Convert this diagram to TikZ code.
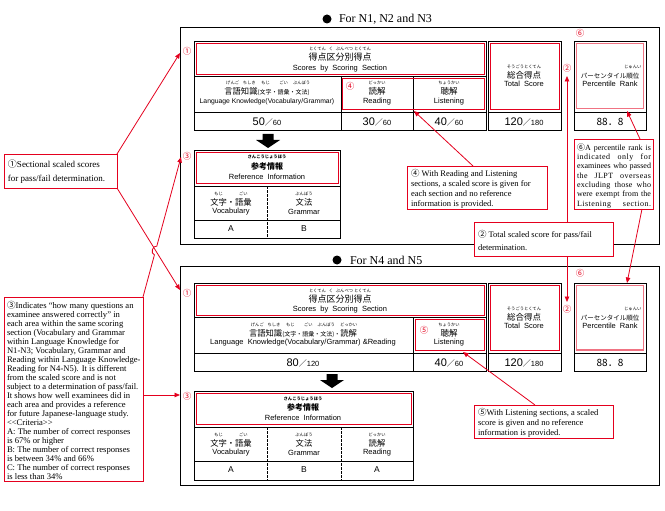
\documentclass[tikz,border=0pt]{standalone}
\usepackage{fontspec}
\setmainfont{Liberation Serif}
\setsansfont{Liberation Sans}
\newfontfamily\jp{Noto Sans CJK JP}
\usetikzlibrary{arrows.meta}
\definecolor{myred}{RGB}{228,0,30}
\newcommand{\fs}[2]{\fontsize{#1}{#2}\selectfont}
\newcommand{\rb}[2]{\ooalign{#1\cr\hidewidth\raisebox{10pt}{\fs{4.3}{4.3}#2}\hidewidth\cr}}
\newcommand{\scoreval}[2]{{\sffamily\fs{11}{11}#1}{\jp\fs{8}{8}／}{\sffamily\fs{7.5}{7.5}#2}}
\newcommand{\jline}[2]{\makebox[74pt][s]{\addfontfeature{LetterSpace=#1}#2}}
\begin{document}
\begin{tikzpicture}[x=1pt,y=-1pt,
  every node/.style={inner sep=0pt, outer sep=0pt},
  blk/.style={draw=black, line width=0.9pt},
  rbox/.style={draw=myred, line width=0.9pt},
  pbox/.style={draw=myred!55, line width=1.4pt},
  note/.style={draw=myred, line width=0.9pt, fill=white, anchor=north west},
  ntext/.style={anchor=north west, align=left},
  cnum/.style={text=myred, font=\jp\fs{8.5}{8.5}},
  jpl/.style={anchor=base, font=\jp\fs{8.5}{8.5}},
  enl/.style={font=\sffamily\fs{7.5}{7.5}},
  val/.style={font=\sffamily\fs{8.5}{8.5}},
  rarr/.style={draw=myred, line width=0.8pt, -{Triangle[length=5.5pt,width=4.5pt]}},
  dsh/.style={line width=0.8pt, dash pattern=on 2.5pt off 1.5pt},
  bul/.style={circle, fill=black, minimum size=9pt}
]
\useasboundingbox (0,0) rectangle (665,511);
\fill[white] (0,0) rectangle (665,511);

% ---------- panels ----------
\draw[blk] (180,27) rectangle (659,244);
\draw[blk] (180,266) rectangle (659,485);

% titles
\node[bul] (bul1) at (327,19) {};
\node[anchor=west, font=\fs{12}{12}] (tt1) at (339,19.5) {For N1, N2 and N3};
\node[bul] (bul2) at (337,260) {};
\node[anchor=west, font=\fs{12}{12}] (tt2) at (350,260.5) {For N4 and N5};

% ---------- top panel tables ----------
\draw[blk] (194,41) rectangle (486,130);
\draw[blk] (194,76) -- (486,76);
\draw[blk] (194,112) -- (486,112);
\draw[blk] (341,76) -- (341,130);
\draw[blk] (413,76) -- (413,130);
\draw[rbox] (196,43) rectangle (484,74);
\draw[rbox] (342.5,78) rectangle (484,109);

\draw[blk] (488,41) rectangle (561,130);
\draw[blk] (488,112) -- (561,112);
\draw[rbox] (490,43) rectangle (559,109);

\draw[blk] (574,41) rectangle (646,130);
\draw[blk] (574,112) -- (646,112);
\draw[pbox] (576.5,43.5) rectangle (643.5,108.5);

\draw[blk] (194,150) rectangle (340,238);
\draw[blk] (194,186) -- (340,186);
\draw[blk] (194,220) -- (340,220);
\draw[dsh] (267,186) -- (267,238);
\draw[rbox] (196,152) rectangle (338,183);

\fill (262.5,134) -- (273.5,134) -- (273.5,140) -- (280,140) -- (268,148) -- (256,140) -- (262.5,140) -- cycle;

% top texts
\node[jpl, font=\jp\fs{9}{9}] (h1) at (340,60.5) {\rb{得点}{とくてん}\rb{区}{く}\rb{分別}{ぶんべつ}\rb{得点}{とくてん}};
\node[enl] (h1e) at (340,68.5) {Scores~ by~ Scoring~ Section};
\node[jpl, font=\jp\fs{8.3}{8.3}] (lk1) at (267,95) {\rb{言語}{げんご}\rb{知識}{ちしき}{\fs{6}{6}(\rb{文字}{もじ}・\rb{語彙}{ごい}・\rb{文法}{ぶんぽう})}};
\node[enl, font=\sffamily\fs{6.8}{6.8}] (lk1e) at (267,102) {Language Knowledge(Vocabulary/Grammar)};
\node[jpl] (rd1) at (377,95) {\rb{読解}{どっかい}};
\node[enl] (rd1e) at (377,102) {Reading};
\node[jpl] (ls1) at (449,95) {\rb{聴解}{ちょうかい}};
\node[enl] (ls1e) at (449,102) {Listening};
\node (v11) at (267,122) {\scoreval{50}{60}};
\node (v12) at (377,122) {\scoreval{30}{60}};
\node (v13) at (449,122) {\scoreval{40}{60}};
\node[jpl] (ts1) at (524,78.5) {\rb{総合得点}{そうごうとくてん}};
\node[enl] (ts1e) at (524,84) {Total~ Score};
\node (v14) at (524,122) {\scoreval{120}{180}};
\node[jpl, font=\jp\fs{6.5}{6.5}] (pr1) at (610,78.5) {パーセンタイル\rb{順位}{じゅんい}};
\node[enl] (pr1e) at (610,84) {Percentile~ Rank};
\node[font=\jp\fs{10}{10}] (v15) at (610,122) {88．8};
\node[jpl, font=\jp\bfseries\fs{8}{8}] (ri1) at (267,169) {\rb{参考情報}{さんこうじょうほう}};
\node[enl] (ri1e) at (267,176.5) {Reference~ Information};
\node[jpl, font=\jp\fs{8.3}{8.3}] (vo1) at (231,205) {\rb{文字}{もじ}・\rb{語彙}{ごい}};
\node[enl] (vo1e) at (231,211.5) {Vocabulary};
\node[jpl, font=\jp\fs{8.3}{8.3}] (gr1) at (304,205) {\rb{文法}{ぶんぽう}};
\node[enl] (gr1e) at (304,211.5) {Grammar};
\node[val] (a1) at (231,229) {A};
\node[val] (b1) at (304,229) {B};

% ---------- bottom panel tables ----------
\draw[blk] (194,283) rectangle (486,371);
\draw[blk] (194,317) -- (486,317);
\draw[blk] (194,353) -- (486,353);
\draw[blk] (413,317) -- (413,371);
\draw[rbox] (196,285) rectangle (484,315);
\draw[rbox] (415,319) rectangle (484,350);

\draw[blk] (488,283) rectangle (561,371);
\draw[blk] (488,353) -- (561,353);
\draw[rbox] (490,285) rectangle (559,350);

\draw[blk] (574,283) rectangle (646,371);
\draw[blk] (574,353) -- (646,353);
\draw[pbox] (576.5,285.5) rectangle (643.5,350);

\draw[blk] (194,391) rectangle (413,480);
\draw[blk] (194,427) -- (413,427);
\draw[blk] (194,461) -- (413,461);
\draw[dsh] (267,427) -- (267,480);
\draw[dsh] (341,427) -- (341,480);
\draw[rbox] (196,393) rectangle (411,424);

\fill (326.5,374) -- (337.5,374) -- (337.5,380) -- (344,380) -- (332,388) -- (320,380) -- (326.5,380) -- cycle;

% bottom texts
\node[jpl, font=\jp\fs{9}{9}] (h2) at (340,302.5) {\rb{得点}{とくてん}\rb{区}{く}\rb{分別}{ぶんべつ}\rb{得点}{とくてん}};
\node[enl] (h2e) at (340,309.5) {Scores~ by~ Scoring~ Section};
\node[jpl, font=\jp\fs{8.3}{8.3}] (lk2) at (303,336) {\rb{言語}{げんご}\rb{知識}{ちしき}{\fs{6}{6}(\rb{文字}{もじ}・\rb{語彙}{ごい}・\rb{文法}{ぶんぽう})・}\rb{読解}{どっかい}};
\node[enl] (lk2e) at (303,343) {Language~ Knowledge(Vocabulary/Grammar) \&Reading};
\node[jpl] (ls2) at (449,336) {\rb{聴解}{ちょうかい}};
\node[enl] (ls2e) at (449,343) {Listening};
\node (v21) at (303,363) {\scoreval{80}{120}};
\node (v22) at (449,363) {\scoreval{40}{60}};
\node[jpl] (ts2) at (524,320) {\rb{総合得点}{そうごうとくてん}};
\node[enl] (ts2e) at (524,325.5) {Total~ Score};
\node (v23) at (524,363) {\scoreval{120}{180}};
\node[jpl, font=\jp\fs{6.5}{6.5}] (pr2) at (610,320) {パーセンタイル\rb{順位}{じゅんい}};
\node[enl] (pr2e) at (610,325.5) {Percentile~ Rank};
\node[font=\jp\fs{10}{10}] (v24) at (610,363) {88．8};
\node[jpl, font=\jp\bfseries\fs{8}{8}] (ri2) at (303,410) {\rb{参考情報}{さんこうじょうほう}};
\node[enl] (ri2e) at (303,417.5) {Reference~ Information};
\node[jpl, font=\jp\fs{8.3}{8.3}] (vo2) at (231,446) {\rb{文字}{もじ}・\rb{語彙}{ごい}};
\node[enl] (vo2e) at (231,452.5) {Vocabulary};
\node[jpl, font=\jp\fs{8.3}{8.3}] (gr2) at (304,446) {\rb{文法}{ぶんぽう}};
\node[enl] (gr2e) at (304,452.5) {Grammar};
\node[jpl, font=\jp\fs{8.3}{8.3}] (rd2) at (377,446) {\rb{読解}{どっかい}};
\node[enl] (rd2e) at (377,452.5) {Reading};
\node[val] (a2) at (231,470) {A};
\node[val] (b2) at (304,470) {B};
\node[val] (a3) at (377,470) {A};

% ---------- circled numbers ----------
\node[cnum] (c1a) at (187,51) {①};
\node[cnum] (c2a) at (567,68) {②};
\node[cnum] (c3a) at (187,156) {③};
\node[cnum] (c4a) at (350,86) {④};
\node[cnum] (c6a) at (580,33) {⑥};
\node[cnum] (c1b) at (187,293) {①};
\node[cnum] (c2b) at (567,309) {②};
\node[cnum] (c3b) at (187,396) {③};
\node[cnum] (c5b) at (424,330) {⑤};
\node[cnum] (c6b) at (580,273) {⑥};

% ---------- note boxes ----------
\node[note, minimum width=113pt, minimum height=34pt] (n1) at (4,154) {};
\node[ntext, font=\fs{9}{14}] (n1t) at (8,160) {{\jp ①}Sectional scaled scores\\for pass/fail determination.};

\node[note, minimum width=139pt, minimum height=184pt] (n3) at (4,297) {};
\node[ntext, font=\fs{8.6}{9}] (n3t) at (7,301) {{\jp ③}Indicates “how many questions an\\
examinee answered correctly” in\\
each area within the same scoring\\
section (Vocabulary and Grammar\\
within Language Knowledge for\\
N1-N3; Vocabulary, Grammar and\\
Reading within Language Knowledge-\\
Reading for N4-N5). It is different\\
from the scaled score and is not\\
subject to a determination of pass/fail.\\
It shows how well examinees did in\\
each area and provides a reference\\
for future Japanese-language study.\\
<{}<Criteria>{}>\\
A: The number of correct responses\\
is 67\% or higher\\
B: The number of correct responses\\
is between 34\% and 66\%\\
C: The number of correct responses\\
is less than 34\%};

\node[note, minimum width=140pt, minimum height=43pt] (n4) at (407,166) {};
\node[ntext, font=\fs{8.5}{10}] (n4t) at (411,169) {{\jp ④} With Reading and Listening\\sections, a scaled score is given for\\each section and no reference\\information is provided.};

\node[note, minimum width=139pt, minimum height=34pt] (n2) at (474,222) {};
\node[ntext, font=\fs{8.5}{13}] (n2t) at (478,230) {{\jp ②} Total scaled score for pass/fail\\determination.};

\node[note, minimum width=79pt, minimum height=70pt] (n6) at (574,139) {};
\node[ntext, font=\fs{8}{9.33}] (n6t) at (577,143.5) {\jline{0}{{\jp ⑥}A percentile rank is}\\
\jline{6}{indicated only for}\\
\jline{0}{examinees who passed}\\
\jline{6}{the JLPT overseas}\\
\jline{3}{excluding those who}\\
\jline{1}{were exempt from the}\\
\jline{6}{Listening section.}};

\node[note, minimum width=139pt, minimum height=33pt] (n5) at (474,405) {};
\node[ntext, font=\fs{8.5}{10}] (n5t) at (478,408) {{\jp ⑤}With Listening sections, a scaled\\score is given and no reference\\information is provided.};

% ---------- arrows ----------
\coordinate (t1a) at (180,53);
\coordinate (t1b) at (180,290);
\coordinate (t3a) at (181,157);
\coordinate (t3b) at (180,395);
\coordinate (hp1) at (154.44,254.86);
\coordinate (hp2) at (156.80,246.18);
\coordinate (t2a) at (567,76);
\coordinate (t2b) at (567,302);
\coordinate (t4) at (414,111);
\coordinate (t5) at (463,352);
\coordinate (t6a) at (627,111);
\coordinate (t6b) at (627,283);

\draw[rarr] (n1.north east) -- (t1a);
\draw[rarr] (n1.south east) -- (t1b);
\draw[rarr] (n3.north east) -- (hp1) .. controls (150.1,253.7) and (152.5,245.0) .. (hp2) -- (t3a);
\draw[rarr] (n3.north east |- t3b) -- (t3b);
\draw[rarr] (n2.north -| t2a) -- (t2a);
\draw[rarr] (n2.south -| t2b) -- (t2b);
\draw[rarr] ([xshift=66pt]n4.north west) -- (t4);
\draw[rarr] ([xshift=61pt]n5.north west) -- (t5);
\draw[rarr] ([xshift=66pt]n6.north west) -- (t6a);
\draw[rarr] ([xshift=68pt]n6.south west) -- (t6b);
\end{tikzpicture}
\end{document}
